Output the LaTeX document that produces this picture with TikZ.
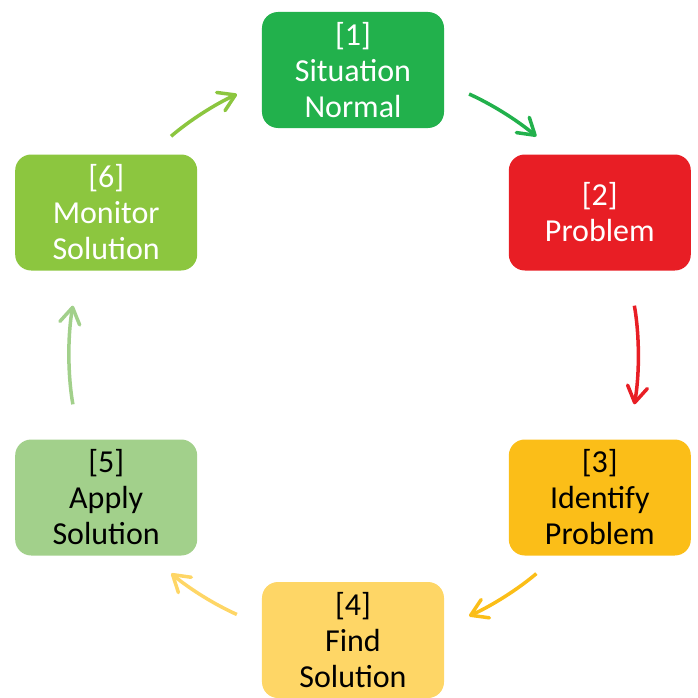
\documentclass[tikz,border=0pt]{standalone}
\usepackage{fontspec}
\setmainfont{Carlito}
\usetikzlibrary{arrows.meta}
\definecolor{situationgreen}{RGB}{34,177,76}
\definecolor{problemred}{RGB}{232,30,37}
\definecolor{identifyamber}{RGB}{251,190,24}
\definecolor{findyellow}{RGB}{254,214,102}
\definecolor{applygreen}{RGB}{162,208,139}
\definecolor{monitorgreen}{RGB}{140,198,63}
\begin{document}
\begin{tikzpicture}[x=1pt,y=1pt,
    stepbox/.style={rectangle, rounded corners=16pt, minimum width=182pt,
      minimum height=116pt, inner sep=0pt, align=center,
      font=\fontsize{32}{36}\selectfont},
    cyclearrow/.style={-{Straight Barb[length=16pt,width=20pt,round]},
      line width=3.5pt}]
      \useasboundingbox (-353,-342) rectangle (345,355);
      \draw
        (90:285) node[stepbox, fill=situationgreen, text=white] (1){[1]\\Situation\\Normal}
        (30:285) node[stepbox, fill=problemred, text=white] (2){[2]\\Problem}
        (-30:285) node[stepbox, fill=identifyamber, text=black] (3){[3]\\Identify\\Problem}
        (-90:285) node[stepbox, fill=findyellow, text=black] (4){[4]\\Find\\Solution}
        (-150:285) node[stepbox, fill=applygreen, text=black] (5){[5]\\Apply\\Solution}
        (150:285) node[stepbox, fill=monitorgreen, text=white] (6){[6]\\Monitor\\Solution};
      \begin{scope}[cyclearrow]
        \draw[situationgreen, shorten <=27.3pt, shorten >=27.7pt] (1.-8.4) to[bend left=8] (2.126.2);
        \draw[problemred, shorten <=35.5pt, shorten >=35.5pt] (2.-64.5) to[bend left=10] (3.64.5);
        \draw[identifyamber, shorten <=27.7pt, shorten >=27.3pt] (3.-126.2) to[bend left=8] (4.8.4);
        \draw[findyellow, shorten <=27.3pt, shorten >=27.7pt] (4.171.6) to[bend left=8] (5.-53.8);
        \draw[applygreen, shorten <=35.5pt, shorten >=35.5pt] (5.115.5) to[bend left=10] (6.-115.5);
        \draw[monitorgreen, shorten <=27.7pt, shorten >=27.3pt] (6.53.8) to[bend left=8] (1.188.4);
      \end{scope}
    \end{tikzpicture}
\end{document}
